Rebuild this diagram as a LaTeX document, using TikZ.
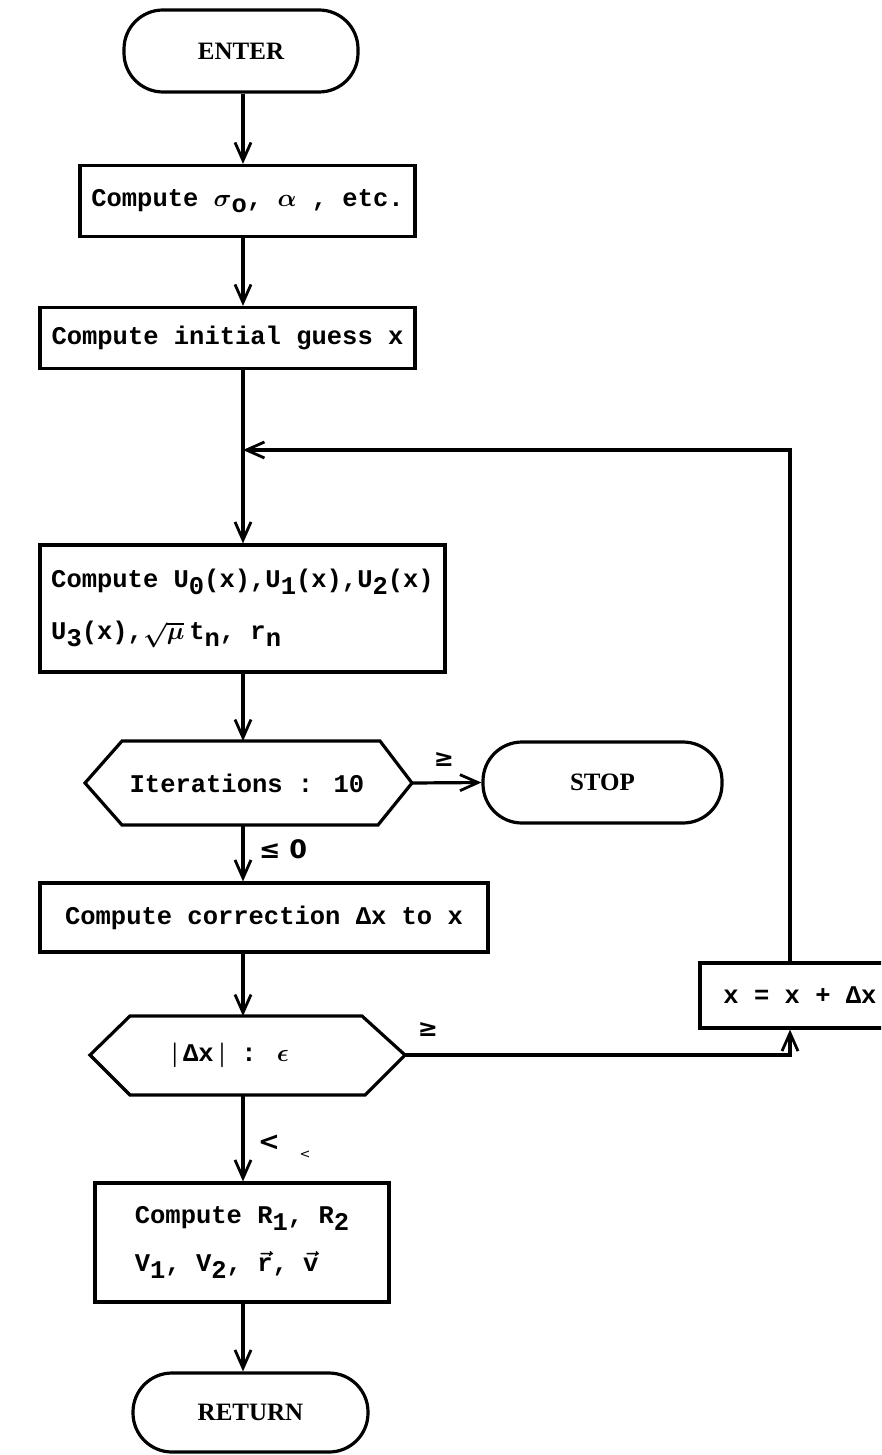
\documentclass[tikz,border=0pt]{standalone}
\usepackage{fontspec}
\setmainfont{Liberation Mono}
\newfontfamily\termfont{Liberation Serif}
\newfontfamily\symfont{DejaVu Sans}
\usetikzlibrary{arrows.meta}
\newcommand\subdn[1]{\raisebox{-0.5ex}{#1}}
\begin{document}
\begin{tikzpicture}[x=1pt,y=-1pt,
  lw/.style={line width=3.2pt},
  arr/.style={lw,-{Straight Barb[length=18pt,width=16pt,line width=2.8pt]}},
  txt/.style={font=\bfseries\boldmath\fontsize{25.5}{40}\selectfont},
  box/.style={draw,lw,rectangle,inner sep=0pt,txt},
  term/.style={draw,lw,rectangle,rounded corners=39pt,inner sep=0pt,
               font=\termfont\bfseries\fontsize{25}{28}\selectfont},
  lbl/.style={inner sep=0pt,txt},
  sym/.style={inner sep=0pt,font=\symfont\bfseries\fontsize{24}{24}\selectfont}]
\useasboundingbox (0,0) rectangle (881,1455);
\clip (0,0) rectangle (881,1455);
\coordinate (spine) at (243,0);
\coordinate (loopx) at (790,0);

% terminals and boxes
\node[term,minimum width=234pt,minimum height=82pt] (enter) at (241,51) {ENTER};
\node[box,minimum width=335pt,minimum height=71pt] (b1) at (247.5,201)
  {Compute $\sigma$\subdn{o}, $\alpha$ , etc.};
\node[box,minimum width=375pt,minimum height=61pt] (b2) at (227.5,338)
  {Compute initial guess x};
\node[box,minimum width=405pt,minimum height=127pt,align=left,
      font=\bfseries\boldmath\fontsize{25.5}{52}\selectfont] (b3) at (242.5,608.5)
  {Compute U\subdn{0}(x),U\subdn{1}(x),U\subdn{2}(x)\\
   U\subdn{3}(x),$\sqrt{\mu}\,$t\subdn{n}, r\subdn{n}\hspace{5em}};

% hexagon 1
\coordinate (h1w) at (85,783);
\coordinate (h1e) at (412,783);
\coordinate (h1n) at (243,741);
\coordinate (h1s) at (243,825);
\draw[lw,line join=miter] (h1w) -- (122,741) -- (380,741) -- (h1e) -- (378,825) -- (122,825) -- cycle;
\node[lbl] (h1) at (247,783) {Iterations : 10};

\node[term,minimum width=239pt,minimum height=81pt] (stop) at (602.5,782.5) {STOP};

\node[box,minimum width=448pt,minimum height=69pt] (b4) at (264,917.5)
  {Compute correction Δx to x};

% hexagon 2
\coordinate (h2w) at (90,1055);
\coordinate (h2e) at (405,1055);
\coordinate (h2n) at (243,1016);
\coordinate (h2s) at (243,1095);
\draw[lw,line join=miter] (h2w) -- (130,1016) -- (362,1016) -- (h2e) -- (365,1095) -- (130,1095) -- cycle;
\node[lbl] (h2) at (230,1055) {$\Big|$\,Δx\,$\Big|$ : $\epsilon$};

\node[box,minimum width=200pt,minimum height=65pt] (xb) at (800,995.5)
  {x = x + Δx};

\node[box,minimum width=294pt,minimum height=119pt,align=left,
      font=\bfseries\boldmath\fontsize{25.5}{48}\selectfont] (b5) at (242,1242.5)
  {Compute R\subdn{1}, R\subdn{2}\\
   V\subdn{1}, V\subdn{2}, $\vec{\mbox{r}}$, $\vec{\mbox{v}}$\hspace{2.5em}};

\node[term,minimum width=235pt,minimum height=79pt] (ret) at (250.5,1412.5) {RETURN};

% connectors
\draw[arr] (enter.south -| spine) -- (b1.north -| spine);
\draw[arr] (b1.south -| spine) -- (b2.north -| spine);
\draw[arr] (b2.south -| spine) -- (b3.north -| spine);
\draw[arr] (b3.south -| spine) -- (h1n);
\draw[arr] (h1e) -- (stop.west);
\draw[arr] (h1s) -- (b4.north -| spine);
\draw[arr] (b4.south -| spine) -- (h2n);
\draw[arr] (h2s) -- (b5.north -| spine);
\draw[arr] (b5.south -| spine) -- (ret.north -| spine);
\draw[arr] (h2e) -- (h2e -| loopx) -- (xb.south -| loopx);
\coordinate (jn) at (243,450);
\draw[arr] (xb.north -| loopx) -- (loopx |- jn) -- (jn);

% labels
\node[sym] (ge1) at (444,760) {≥};
\node[lbl] (le0) at (283,849) {\symfont ≤ 0};
\node[sym] (ge2) at (428,1030) {≥};
\node[sym,font=\symfont\bfseries\fontsize{26}{26}\selectfont] (lt) at (269,1143) {<};
\node[sym,font=\symfont\fontsize{13}{13}\selectfont] (lt2) at (305,1155) {<};
\end{tikzpicture}
\end{document}
